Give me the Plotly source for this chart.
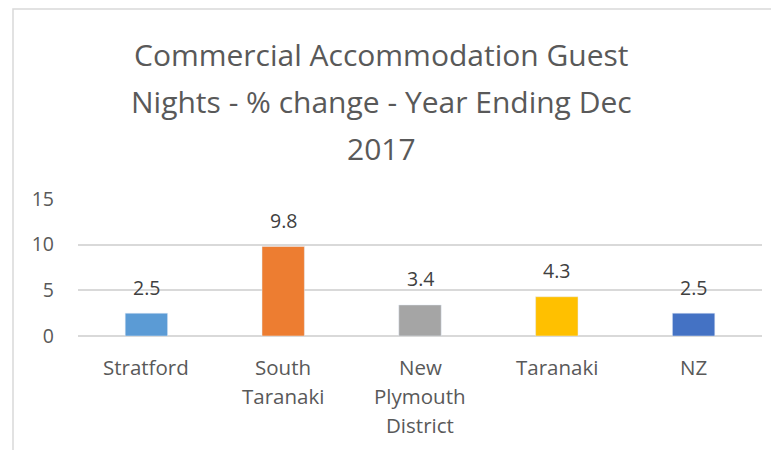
import plotly.graph_objects as go

categories = ["Stratford", "South Taranaki", "New Plymouth District", "Taranaki", "NZ"]
label_lines = [["Stratford"], ["South", "Taranaki"], ["New", "Plymouth", "District"], ["Taranaki"], ["NZ"]]
values = [2.5, 9.8, 3.4, 4.3, 2.5]
colors = ["#5B9BD5", "#ED7D31", "#A5A5A5", "#FFC000", "#4472C4"]
title_lines = ["Commercial Accommodation Guest", "Nights - % change - Year Ending Dec", "2017"]

W, H = 771, 450
ML, MR, MT, MB = 78, 9, 199, 114
PW, PH = W - ML - MR, H - MT - MB
FONT = "Open Sans, Lato, sans-serif"

def py(pix):
    return (H - MB - pix) / PH

def px(pix):
    return (pix - ML) / PW

fig = go.Figure(go.Bar(
    x=categories, y=values, marker_color=colors, width=0.31,
    hoverinfo="x+y",
))

ann = []
for c, v in zip(categories, values):
    ann.append(dict(x=c, y=v, xref="x", yref="y", text=f"{v}", showarrow=False,
                    yanchor="middle", yshift=26, font=dict(size=19.5, color="#404040", family=FONT)))
for c, lines in zip(categories, label_lines):
    for i, t in enumerate(lines):
        ann.append(dict(x=c, xref="x", y=py(367 + 29 * i), yref="paper", text=t, showarrow=False,
                        yanchor="middle", font=dict(size=20.5, color="#595959", family=FONT)))
for i, (t, yp) in enumerate(zip(title_lines, [54, 101, 148])):
    ann.append(dict(x=px(381), xref="paper", y=py(yp), yref="paper", text=t, showarrow=False,
                    xanchor="center", yanchor="middle", font=dict(size=30, color="#595959", family=FONT)))

fig.update_layout(
    width=W, height=H,
    margin=dict(l=ML, r=MR, t=MT, b=MB, pad=0),
    paper_bgcolor="white", plot_bgcolor="white",
    showlegend=False,
    annotations=ann,
    font=dict(family=FONT, color="#595959"),
    shapes=[dict(type="rect", xref="paper", yref="paper",
                 x0=px(13), x1=px(W + 20), y0=py(H + 20), y1=py(9),
                 line=dict(color="#D9D9D9", width=1.5), fillcolor="rgba(0,0,0,0)", layer="below")],
)
fig.update_xaxes(showticklabels=False, showgrid=False, zeroline=False, showline=False, ticks="")
fig.update_yaxes(range=[0, 15], dtick=5, showgrid=True, gridcolor="#D9D9D9", gridwidth=1.5,
                 zeroline=True, zerolinecolor="#D9D9D9", zerolinewidth=1.5, showline=False,
                 ticks="", ticklabelstandoff=23, tickfont=dict(size=19.5, color="#595959", family=FONT))

fig.write_html("out.html", config={"displayModeBar": False},
               post_script="document.body.style.margin='0';document.body.style.overflow='hidden';")
